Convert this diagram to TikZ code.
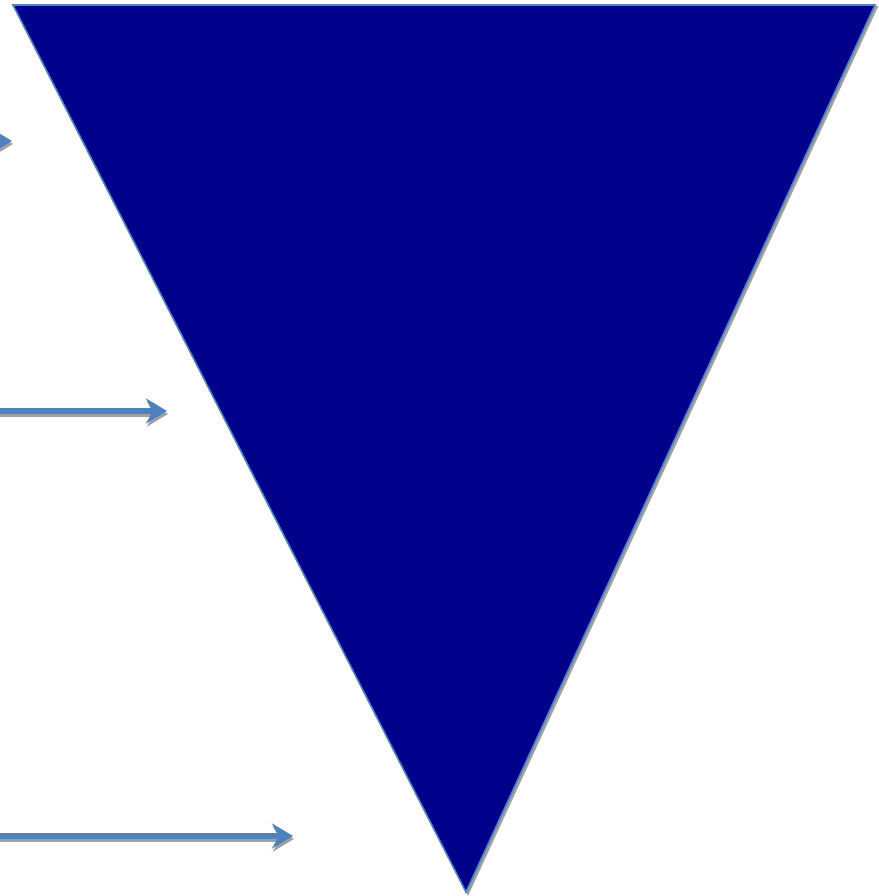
\documentclass[tikz,border=0pt]{standalone}
\usetikzlibrary{arrows.meta}
\definecolor{navyfill}{RGB}{0,0,139}
\definecolor{edgeblue}{RGB}{79,129,189}
\definecolor{shadowgrey}{RGB}{160,160,160}
\tikzset{
  arr/.style={line width=6pt, draw=edgeblue, -{Stealth[length=21pt,width=25pt,inset=7pt]}},
  arrshadow/.style={line width=6pt, draw=shadowgrey, -{Stealth[length=21pt,width=25pt,inset=7pt]}},
  tri/.style={fill=navyfill, draw=edgeblue, line width=1.6pt, line join=miter},
  trishadow/.style={fill=shadowgrey, draw=shadowgrey, line width=1.6pt}
}
\begin{document}
\begin{tikzpicture}[x=1pt,y=1pt]
\useasboundingbox (0,0) rectangle (878,896);
\clip (0,0) rectangle (878,896);
% triangle corners
\coordinate (tl) at (13,891);
\coordinate (tr) at (875,891);
\coordinate (bt) at (466,4);
% shadow of triangle
\draw[trishadow] ([shift={(2,-2)}]tl) -- ([shift={(2,-2)}]tr) -- ([shift={(2,-2)}]bt) -- cycle;
\draw[tri] (tl) -- (tr) -- (bt) -- cycle;
% arrows
\coordinate (a1s) at (-80,755);
\coordinate (a1e) at (12,755);
\coordinate (a2s) at (-10,485);
\coordinate (a2e) at (167,485);
\coordinate (a3s) at (-10,60);
\coordinate (a3e) at (293,60);
\foreach \s/\e in {a1s/a1e,a2s/a2e,a3s/a3e}{
  \draw[arrshadow] ([shift={(1,-3)}]\s) -- ([shift={(1,-3)}]\e);
  \draw[arr] (\s) -- (\e);
}
\end{tikzpicture}
\end{document}
